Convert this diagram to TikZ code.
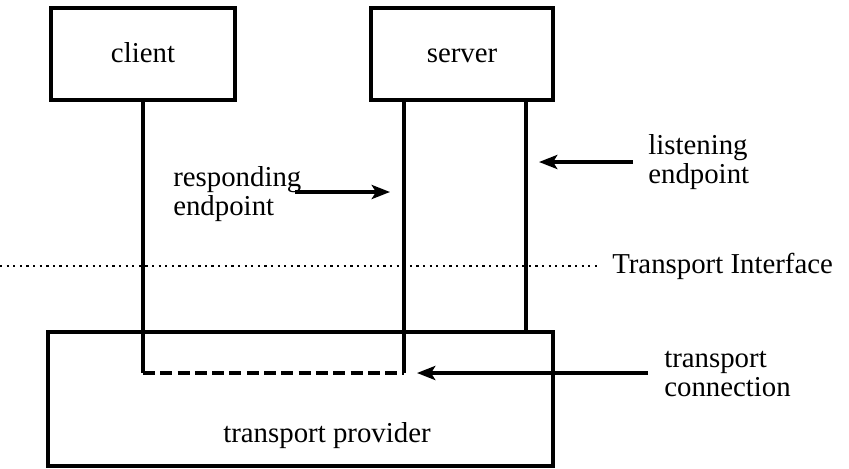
\documentclass[tikz,border=0pt]{standalone}
\usepackage{fontspec}
\setmainfont{Liberation Serif}
\usepackage{tikz}
\usetikzlibrary{arrows.meta}

\tikzset{
	caja/.style={draw, line width=2.6pt, inner sep=0pt, text height=11.4pt, text depth=0pt, font=\fontsize{20.5}{20.5}\selectfont},
	texto/.style={inner sep=0pt, align=left, font=\fontsize{20.5}{20.5}\selectfont},
	linea/.style={line width=2.4pt},
	flecha/.style={line width=2.4pt, -{Stealth[length=13pt, width=10pt, inset=3pt]}},
}

\begin{document}
\begin{tikzpicture}[x=0.025cm, y=-0.025cm]
			\useasboundingbox (0,0) rectangle (849,468);

			% Dibujar las cajas
			\node[caja, minimum width=4.6cm, minimum height=2.3cm] (client) at (143,54) {client};
			\node[caja, minimum width=4.55cm, minimum height=2.3cm] (server) at (462,54) {server};
			\node[caja, minimum width=12.625cm, minimum height=3.35cm] (provider) at (300.5,399) {};
			\node[texto] (provtext) at (327,436) {transport provider};

			% Puntos de los extremos
			\coordinate (c1) at (143,100);
			\coordinate (c2) at (143,373);
			\coordinate (s1) at (404,100);
			\coordinate (s2) at (404,373);
			\coordinate (l1) at (526,100);
			\coordinate (l2) at (526,332);

			% Dibujar los extremos
			\draw[linea] (c1) -- (c2);
			\draw[linea] (s1) -- (s2);
			\draw[linea] (l1) -- (l2);
			\draw[line width=2.4pt, dash pattern=on 8.5pt off 3.8pt] (c2) -- (s2);

			% Interfaz de transporte
			\node[texto, anchor=west] (iface) at (612,266) {Transport Interface};
			\coordinate (d0) at (0,266);
			\draw[line width=1.8pt, dash pattern=on 1.6pt off 3.1pt] (d0) -- ([xshift=-0.3cm]iface.west);

			% Etiquetas y flechas
			\node[texto, anchor=west] (resp) at (173,194) {responding\\endpoint};
			\coordinate (r1) at (295,192);
			\coordinate (r2) at (390,192);
			\draw[flecha] (r1) -- (r2);

			\node[texto, anchor=west] (listen) at (648,162) {listening\\endpoint};
			\coordinate (e1) at (633,162);
			\coordinate (e2) at (539,162);
			\draw[flecha] (e1) -- (e2);

			\node[texto, anchor=west] (conn) at (664,374) {transport\\connection};
			\coordinate (t1) at (648,373);
			\coordinate (t2) at (417,373);
			\draw[flecha] (t1) -- (t2);
		\end{tikzpicture}
\end{document}
